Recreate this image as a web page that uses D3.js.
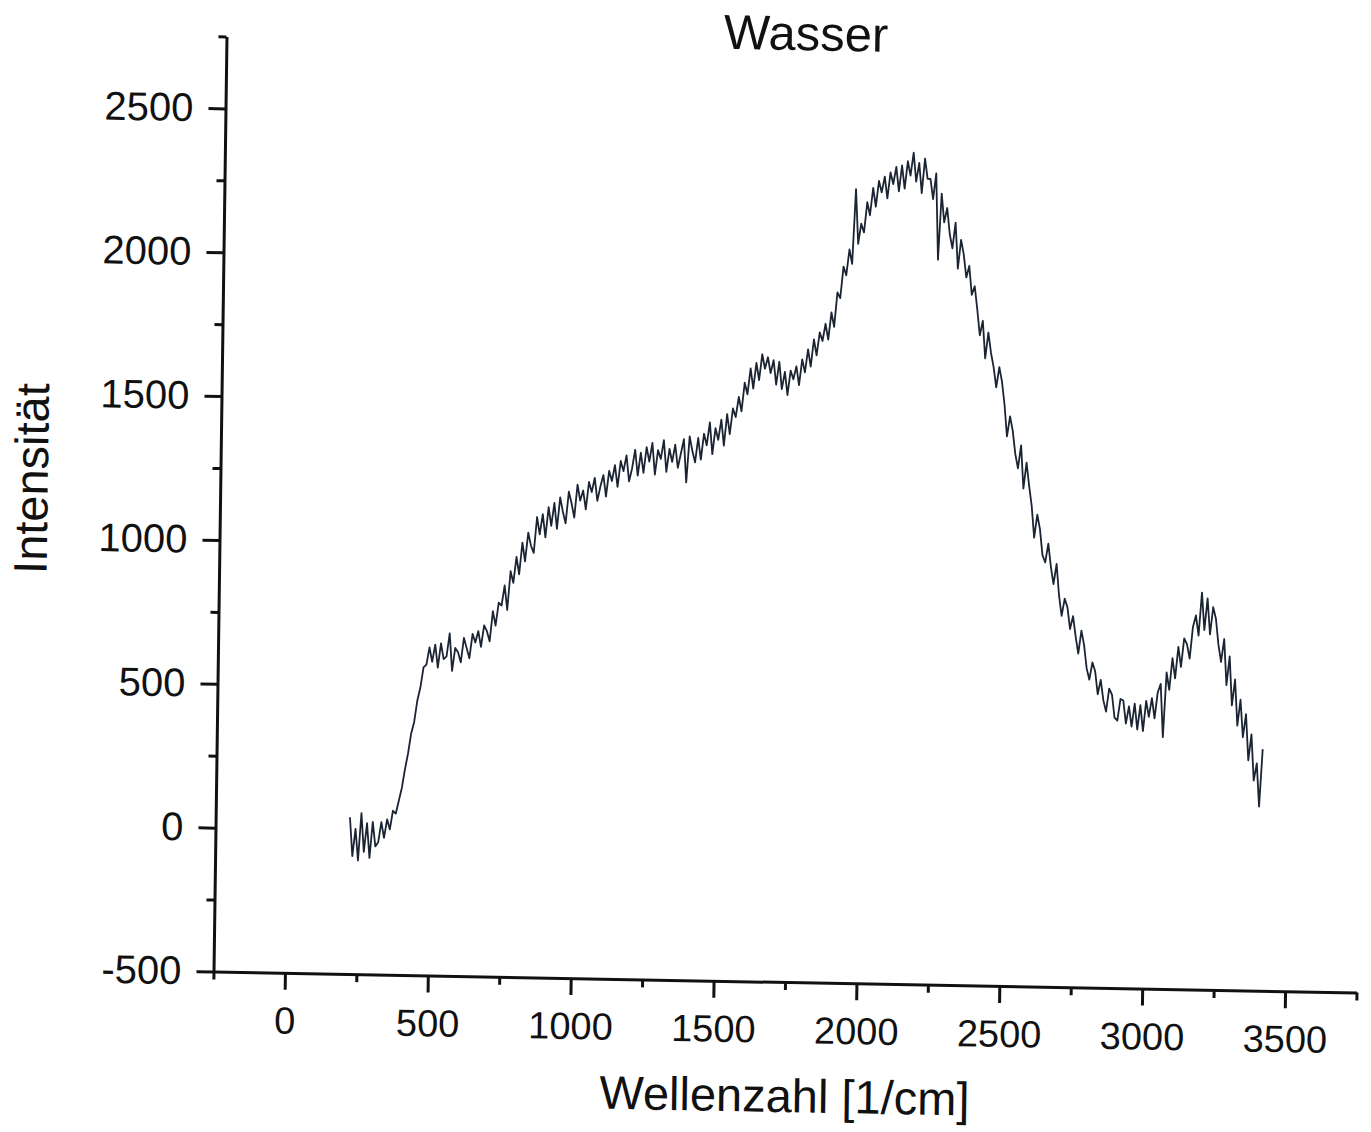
<!DOCTYPE html>
<html>
<head>
<meta charset="utf-8">
<script src="https://cdnjs.cloudflare.com/ajax/libs/d3/7.8.5/d3.min.js"></script>
<style>
body { margin: 0; background: #fff; }
svg text { font-family: "Liberation Sans", Arial, sans-serif; fill: #111; }
</style>
</head>
<body>
<svg id="viz" width="1371" height="1132"></svg>
<script>
var title = "Wasser";
var xTitle = "Wellenzahl [1/cm]";
var yTitle = "Intensität";

var xDomain = [-250, 3750];
var yDomain = [-500, 2750];
var xMajorTicks = [0, 500, 1000, 1500, 2000, 2500, 3000, 3500];
var yMajorTicks = [-500, 0, 500, 1000, 1500, 2000, 2500];
var xMinorTicks = [-250, 250, 750, 1250, 1750, 2250, 2750, 3250, 3750];
var yMinorTicks = [-250, 250, 750, 1250, 1750, 2250, 2750];

// spectrum sampled every 10 1/cm starting at 220 1/cm
var waveStart = 220;
var waveStep = 10;
var intensity = [
    45, -90, 5, -105, 60, -75, 25, -95, 30, -55,
    -40, 30, -25, 40, 5, 70, 60, 105, 150, 215,
    270, 340, 380, 455, 500, 570, 580, 640, 590, 650,
    570, 655, 600, 610, 690, 560, 640, 625, 590, 675,
    640, 605, 690, 660, 700, 645, 720, 700, 665, 770,
    720, 800, 790, 860, 775, 910, 870, 960, 900, 1010,
    945, 1045, 1000, 975, 1100, 1040, 1110, 1030, 1135, 1070,
    1150, 1060, 1170, 1120, 1080, 1190, 1150, 1100, 1215, 1160,
    1195, 1130, 1225, 1190, 1240, 1160, 1210, 1250, 1175, 1265,
    1230, 1285, 1210, 1300, 1265, 1320, 1230, 1275, 1340, 1250,
    1330, 1260, 1350, 1300, 1365, 1255, 1340, 1310, 1375, 1265,
    1345, 1300, 1360, 1280, 1330, 1380, 1230, 1390, 1340, 1300,
    1385, 1310, 1400, 1360, 1440, 1330, 1420, 1380, 1450, 1360,
    1470, 1400, 1490, 1460, 1530, 1480, 1580, 1540, 1630, 1560,
    1650, 1590, 1680, 1630, 1670, 1615, 1660, 1575, 1655, 1560,
    1620, 1540, 1625, 1595, 1640, 1575, 1665, 1620, 1700, 1640,
    1735, 1680, 1760, 1730, 1790, 1735, 1830, 1780, 1900, 1880,
    1990, 1960, 2050, 2000, 2260, 2070, 2140, 2110, 2215, 2170,
    2265, 2200, 2290, 2250, 2305, 2230, 2320, 2280, 2340, 2255,
    2345, 2265, 2360, 2310, 2390, 2290, 2355, 2250, 2370, 2300,
    2300, 2230, 2320, 2020, 2250, 2150, 2200, 2110, 2060, 2150,
    1990, 2090, 2040, 1960, 2000, 1900, 1930, 1850, 1760, 1810,
    1680, 1770, 1700, 1650, 1580, 1650, 1600, 1520, 1410, 1480,
    1430, 1350, 1300, 1380, 1230, 1320, 1240, 1170, 1060, 1140,
    1090, 1000, 975, 1040, 960, 900, 970, 860, 790, 850,
    820, 745, 790, 720, 660, 740, 690, 610, 570, 630,
    600, 520, 570, 500, 460, 540, 520, 440, 430, 505,
    500, 420, 480, 410, 490, 400, 485, 395, 500, 445,
    510, 440, 530, 560, 375, 600, 540, 650, 580, 690,
    620, 720, 700, 650, 760, 800, 730, 880, 750, 860,
    735, 830, 790, 700, 640, 720, 560, 660, 490, 580,
    420, 510, 380, 460, 300, 390, 230, 290, 140, 340
];

var plotLeft = 213.5, plotRight = 1356.5, plotTop = 36.5, plotBottom = 971.5;
var ink = "#111";

var svg = d3.select("#viz");

// the scanned page is a little skewed, so the whole frame gets tilted
var frame = svg.append("g")
    .attr("transform", "translate(" + plotLeft + "," + plotBottom + ") matrix(1,0.0184,-0.0139,1,0,0) translate(" + (-plotLeft) + "," + (-plotBottom) + ")");

var x = d3.scaleLinear().domain(xDomain).range([plotLeft, plotRight]);
var y = d3.scaleLinear().domain(yDomain).range([plotBottom, plotTop]);

var plainNumber = function (d) { return String(d); };

function styleAxis(g, size) {
    g.attr("font-family", null).attr("font-size", null);
    g.selectAll("path, line").attr("stroke", ink).attr("stroke-width", 3);
    g.selectAll("text").attr("fill", ink).style("font-size", size + "px");
}

// x axis
frame.append("g")
    .attr("transform", "translate(0," + plotBottom + ")")
    .call(d3.axisBottom(x).tickValues(xMinorTicks).tickSize(8).tickSizeOuter(0).tickFormat(""))
    .call(styleAxis, 38);
frame.append("g")
    .attr("transform", "translate(0," + plotBottom + ")")
    .call(d3.axisBottom(x).tickValues(xMajorTicks).tickSize(17).tickSizeOuter(0).tickPadding(17).tickFormat(plainNumber))
    .call(styleAxis, 38)
    .call(function (g) { g.select(".domain").remove(); });

// y axis
frame.append("g")
    .attr("transform", "translate(" + plotLeft + ",0)")
    .call(d3.axisLeft(y).tickValues(yMinorTicks).tickSize(8).tickSizeOuter(0).tickFormat(""))
    .call(styleAxis, 40);
frame.append("g")
    .attr("transform", "translate(" + plotLeft + ",0)")
    .call(d3.axisLeft(y).tickValues(yMajorTicks).tickSize(17).tickSizeOuter(0).tickPadding(15).tickFormat(plainNumber))
    .call(styleAxis, 40)
    .call(function (g) { g.select(".domain").remove(); });

// spectrum
var points = intensity.map(function (v, i) { return [waveStart + i * waveStep, v]; });
var line = d3.line()
    .x(function (d) { return x(d[0]); })
    .y(function (d) { return y(d[1]); });

frame.append("path")
    .datum(points)
    .attr("d", line)
    .attr("fill", "none")
    .attr("stroke", "#1b2433")
    .attr("stroke-width", 1.8)
    .attr("stroke-linejoin", "round");

// titles
frame.append("text")
    .attr("x", 793).attr("y", 39.5)
    .attr("text-anchor", "middle")
    .style("font-size", "49px")
    .text(title);

frame.append("text")
    .attr("x", 786).attr("y", 1101.5)
    .attr("text-anchor", "middle")
    .style("font-size", "47px")
    .text(xTitle);

frame.append("text")
    .attr("transform", "translate(41,482) rotate(-90)")
    .attr("text-anchor", "middle")
    .style("font-size", "47px")
    .text(yTitle);
</script>
</body>
</html>
